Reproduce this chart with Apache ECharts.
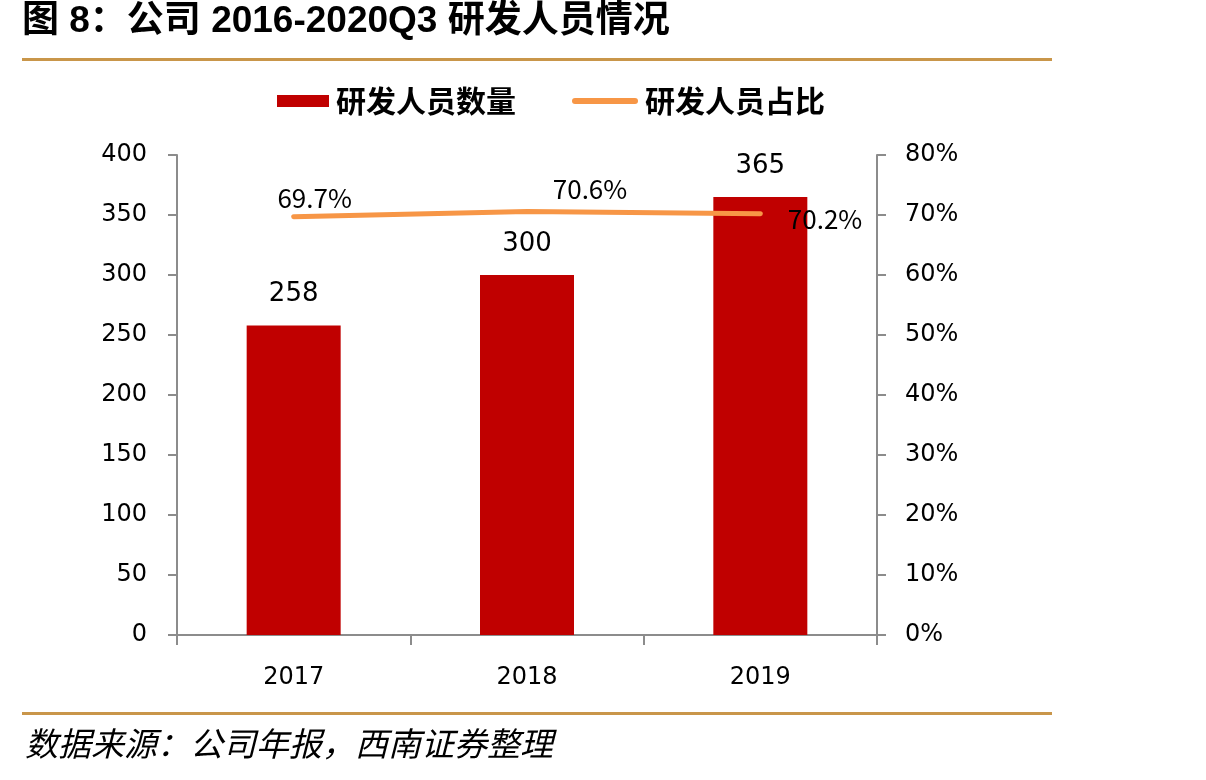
<!DOCTYPE html>
<html><head><meta charset="utf-8">
<script src="https://cdn.jsdelivr.net/npm/echarts@6/dist/echarts.min.js"></script>
<style>html,body{margin:0;padding:0;background:#fff}#c{width:1206px;height:780px}</style>
</head><body><div id="c"></div>
<script>
const categories = ['2017', '2018', '2019'];
const staffCount = [258, 300, 365];
const staffRatio = [0.697, 0.706, 0.702];
const leftTicks = {min: 0, max: 400, interval: 50};
const rightTicks = {min: 0, max: 0.8, interval: 0.1};
const titleText = '图 8：公司 2016-2020Q3 研发人员情况';
const sourceText = '数据来源：公司年报，西南证券整理';
const seriesNames = ['研发人员数量', '研发人员占比'];

const lineLabelPos = [
  {position: 'top', offset: [21, 0]},
  {position: 'top', offset: [63, -4]},
  {position: 'right', offset: [22, 5]}
];
const cjk = '"Noto Sans CJK SC", sans-serif';
const mixed = '"Liberation Sans", "Noto Sans CJK SC", sans-serif';
const num = '"DejaVu Sans", "Liberation Sans", sans-serif';
const legendText = {fontSize: 30, fontFamily: cjk, fontWeight: 'bold', color: '#000', padding: [0, 0, 0, 2]};
const chart = echarts.init(document.getElementById('c'));
chart.setOption({
  animation: false,
  backgroundColor: '#fff',
  graphic: [
    {type: 'text', left: 22, top: 3, style: {text: titleText, font: 'bold 37px ' + mixed, fill: '#000'}},
    {type: 'rect', shape: {x: 22, y: 58, width: 1030, height: 3}, style: {fill: '#C9964A'}},
    {type: 'rect', shape: {x: 22, y: 712, width: 1030, height: 3}, style: {fill: '#C9964A'}},
    {type: 'text', left: 25, top: 727, style: {text: sourceText, font: 'italic 33px ' + cjk, fill: '#000'}}
  ],
  legend: [
    {top: 81, left: 272, itemWidth: 52, itemHeight: 12, textStyle: legendText,
     data: [{name: seriesNames[0], icon: 'rect'}]},
    {top: 81, left: 567, itemWidth: 66, itemHeight: 12, textStyle: legendText,
     data: [{name: seriesNames[1], icon: 'path://M3,0 L63,0 A3,3 0 0 1 63,6 L3,6 A3,3 0 0 1 3,0 Z'}]}
  ],
  grid: {left: 177, right: 329, top: 155, bottom: 145, containLabel: false},
  xAxis: {
    type: 'category', data: categories,
    axisLine: {lineStyle: {color: '#8c8c8c', width: 2}},
    axisTick: {show: true, interval: 0, length: 10, lineStyle: {color: '#8c8c8c', width: 2}},
    axisLabel: {fontSize: 24, color: '#000', fontFamily: num, margin: 31}
  },
  yAxis: [
    {type: 'value', min: leftTicks.min, max: leftTicks.max, interval: leftTicks.interval,
     axisLine: {show: true, lineStyle: {color: '#8c8c8c', width: 2}},
     axisTick: {show: true, length: 9, lineStyle: {color: '#8c8c8c', width: 2}},
     splitLine: {show: false},
     axisLabel: {fontSize: 24, color: '#000', fontFamily: num, margin: 30}},
    {type: 'value', min: rightTicks.min, max: rightTicks.max, interval: rightTicks.interval,
     position: 'right',
     axisLine: {show: true, lineStyle: {color: '#8c8c8c', width: 2}},
     axisTick: {show: true, length: 9, lineStyle: {color: '#8c8c8c', width: 2}},
     splitLine: {show: false},
     axisLabel: {fontSize: 24, color: '#000', fontFamily: num, margin: 28,
       formatter: v => Math.round(v * 100) + '%'}}
  ],
  series: [
    {name: seriesNames[0], type: 'bar', data: staffCount, barWidth: 94,
     itemStyle: {color: '#C00000'},
     label: {show: true, position: 'top', distance: 18, fontSize: 26, color: '#000', fontFamily: num}},
    {name: seriesNames[1], type: 'line', yAxisIndex: 1, symbol: 'circle', symbolSize: 1, showSymbol: true,
     lineStyle: {color: '#F79646', width: 5, cap: 'round'}, itemStyle: {color: '#F79646'},
     data: staffRatio.map((v, i) => ({value: v, label: Object.assign({show: true}, lineLabelPos[i])})),
     label: {show: true, fontSize: 26, color: '#000', fontFamily: cjk,
       formatter: p => (p.value * 100).toFixed(1) + '%'}}
  ]
});
</script></body></html>
